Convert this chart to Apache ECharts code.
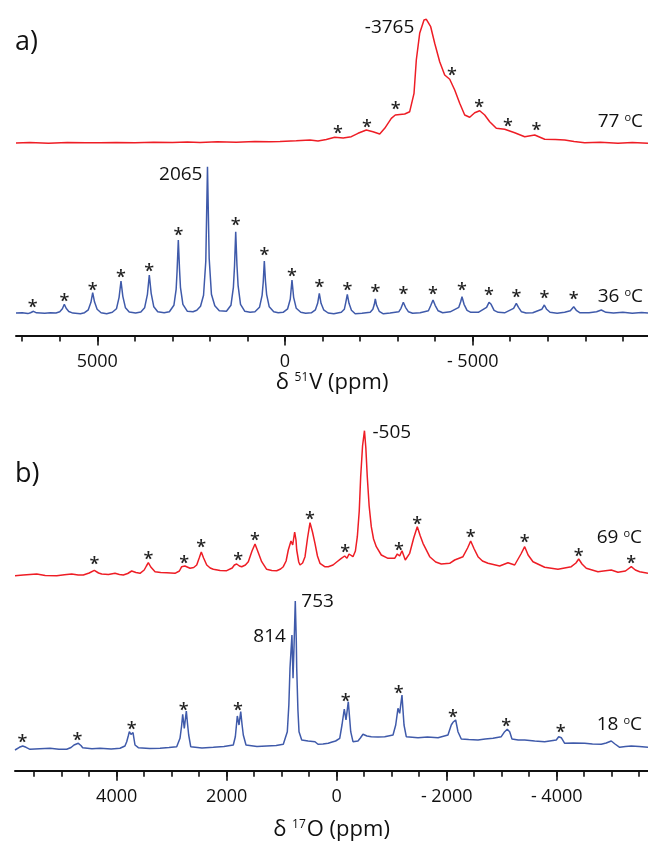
<!DOCTYPE html>
<html>
<head>
<meta charset="utf-8">
<script src="https://cdn.jsdelivr.net/npm/echarts@6/dist/echarts.min.js"></script>
<style>
  html, body { margin: 0; padding: 0; background: #ffffff; }
  #chart { width: 648px; height: 844px; }
</style>
</head>
<body>
<div id="chart"></div>
<script>
// ---------- Panel a: 51V MAS spectra, points are [shift (ppm), intensity (a.u.)] ----------
const v51At77C = [
  [7166,0],[6800,0.4],[6300,-0.2],[5800,0.5],[5300,0.2],[4928,0.3],[4500,0.6],[4000,0.2],
  [3500,0.8],[3000,0.4],[2600,0.9],[2264,0.5],[1800,1.2],[1300,0.8],[800,1.6],[400,1.2],
  [133,1.5],[-300,2.2],[-666,3],[-879,2],[-1100,3.5],[-1324,5.7],[-1550,5],[-1766,6.3],
  [-1945,9.7],[-2166,13],[-2344,11.3],[-2523,9],[-2656,14.7],[-2832,24.7],[-2938,28],
  [-3060,28.5],[-3189,29],[-3322,31.3],[-3437,49.7],[-3498,83],[-3588,109.7],[-3703,123],
  [-3765,123.7],[-3881,116.3],[-3988,99.7],[-4121,81.3],[-4254,68],[-4388,63.7],[-4521,53],
  [-4654,39.7],[-4787,28],[-4920,25.7],[-5054,30.3],[-5187,32.3],[-5320,28],[-5453,21.3],
  [-5629,14.7],[-5853,13.7],[-6119,10.3],[-6386,6.3],[-6652,8],[-6918,3.7],[-7200,3.5],
  [-7451,3],[-7700,1.5],[-7984,0.3],[-8400,0.8],[-8871,-0.3],[-9250,0.4],[-9670,-0.3]
];
const v51At36C = [
  [7166,0.3],[7000,0.5],[6850,-0.3],[6780,0.6],[6700,2],[6620,0.5],[6400,0],[6250,0.5],
  [6100,0.3],[6000,1.5],[5930,4.5],[5879,9],[5830,5],[5760,1.8],[5650,0.2],[5450,-0.5],
  [5340,0.6],[5240,3.5],[5170,11],[5123,20.6],[5075,11.5],[5005,4],[4900,0.6],[4750,-0.5],
  [4600,1],[4490,4.5],[4420,16],[4369,32.3],[4320,17],[4250,5.5],[4150,1.2],[3980,0.2],
  [3840,1.2],[3740,5.5],[3665,19],[3615,38.3],[3565,20],[3495,6.5],[3390,1.5],[3220,0.5],
  [3080,1.5],[2960,8],[2900,24],[2875,42],[2842,73.3],[2810,44],[2785,26],[2720,9],[2600,2],[2450,1.5],
  [2350,3],[2250,7],[2170,18],[2110,52],[2065,146.6],[2020,55],[1960,19],[1870,7.5],[1750,2.5],
  [1560,2],[1440,8],[1375,26],[1345,47],[1313,81.6],[1280,48],[1250,28],[1185,9],[1070,2],[930,1],
  [800,1.5],[680,6],[610,18],[580,31],[551,52.3],[520,32],[490,19],[420,6.5],[300,1.5],[180,0.5],
  [50,1],[-70,4.5],[-140,14],[-186,33.3],[-230,16],[-300,5],[-420,1],[-550,0],
  [-700,0.5],[-810,3.5],[-870,10],[-914,20],[-960,10],[-1030,3.5],[-1150,0.3],[-1300,-0.5],
  [-1500,1],[-1580,4],[-1620,11],[-1660,19],[-1705,10],[-1770,3],[-1870,-0.5],[-2050,0],
  [-2270,1],[-2340,4],[-2380,9],[-2406,14.3],[-2440,8],[-2510,2],[-2620,-0.5],[-2800,0.3],
  [-3030,1.5],[-3090,5],[-3152,11],[-3210,6],[-3290,1.5],[-3400,0],[-3600,0.5],
  [-3820,2.5],[-3880,7.5],[-3943,13.3],[-4000,8],[-4080,2.5],[-4200,0.5],[-4400,1.5],
  [-4630,6],[-4680,11.5],[-4715,16.6],[-4770,9],[-4850,3],[-4950,1],[-5150,1],
  [-5370,6],[-5435,11],[-5490,9],[-5570,3],[-5680,1],[-5850,0.5],
  [-6090,5],[-6162,10],[-6220,6],[-6300,1.5],[-6420,0.3],[-6600,0.5],
  [-6840,4],[-6908,8.3],[-6970,4],[-7060,1],[-7250,0],[-7450,1],
  [-7600,2.5],[-7691,6.6],[-7760,3],[-7860,0.5],[-8100,0.5],[-8300,1.5],
  [-8426,3.3],[-8550,1],[-8750,0.3],[-9000,1],[-9250,0],[-9500,0.8],[-9670,0.3]
];
// spinning sidebands flagged with an asterisk: [shift, height of the mark]
const v51Sidebands77 = [[-1412,13],[-2184,19],[-2949,37],[-4449,71.3],[-5176,39],[-5941,20.3],[-6695,16.3]];
const v51Sidebands36 = [
  [6720,9],[5879,15.6],[5123,26.6],[4369,39],[3615,45.3],[2842,81.3],[1313,91.6],[551,61.3],
  [-186,40],[-914,29],[-1660,26],[-2406,24],[-3152,22.6],[-3943,22],[-4715,26.6],[-5435,21],
  [-6162,19.3],[-6908,18],[-7691,17.3]
];
const v51Isotropic77 = [-3765];
const v51Isotropic36 = [2065];
const v51Range = [-9670, 7166];
const v51MajorTicks = [5000, 0, -5000];
const v51TickLabels = ['5000', '0', '- 5000'];
const v51MinorTicks = [7000,6000,5000,4000,3000,2000,1000,0,-1000,-2000,-3000,-4000,-5000,-6000,-7000,-8000,-9000];

// ---------- Panel b: 17O MAS spectra ----------
const o17At69C = [
  [5849,0.3],[5700,1],[5454,2],[5300,0.5],[5090,0.3],[4950,1.2],[4818,2],[4700,1],[4607,1],
  [4500,3],[4407,5.7],[4330,3],[4272,2],[4150,1.5],[4031,2.7],[3950,1.5],[3880,1],[3800,2.5],
  [3727,5],[3650,3.5],[3576,2.7],[3500,6],[3460,10],[3425,13.3],[3380,9],[3303,4.3],[3200,3.5],
  [3091,3.3],[2940,2.7],[2860,5],[2818,9.3],[2790,8],[2760,10],[2727,11],[2667,7.7],[2600,8.5],
  [2545,11],[2500,18],[2462,24],[2420,18],[2363,11],[2300,8],[2243,6.7],[2120,5.5],[2000,5.3],
  [1900,8],[1860,11],[1818,12],[1770,10],[1727,9.3],[1660,11],[1607,14.3],[1540,25],[1485,32],
  [1430,24],[1364,14.3],[1273,6.7],[1180,5.5],[1091,5.3],[1020,7],[971,9.3],[920,15],[880,26],
  [831,35],[800,31],[764,44],[740,36],[727,26],[690,14],[667,11],[620,13],[576,19.3],[530,38],
  [485,53.3],[440,44],[395,32.7],[350,20],[304,12.7],[218,9.3],[153,9.3],[67,11],[0,14],
  [-84,17.7],[-145,20],[-187,17.7],[-224,22],[-260,20],[-296,19.3],[-340,25],[-375,39.3],
  [-410,65],[-436,99.3],[-470,130],[-505,145.3],[-530,128],[-556,99.3],[-590,70],[-629,49.3],
  [-670,37],[-720,29.3],[-811,21],[-933,17.7],[-1054,17.7],[-1102,22],[-1145,20],[-1187,25.3],
  [-1247,16],[-1327,22.7],[-1400,38],[-1465,49.3],[-1520,40],[-1569,32.7],[-1691,19.3],
  [-1800,14],[-1902,12],[-2054,12.7],[-2145,16],[-2296,19.3],[-2380,28],[-2436,35],[-2500,27],
  [-2569,19.3],[-2650,15],[-2751,12.7],[-2963,10],[-3114,13.3],[-3236,11],[-3350,22],
  [-3418,29.3],[-3480,21],[-3569,14.3],[-3781,8.7],[-4023,6.7],[-4265,9.3],[-4350,13],
  [-4400,17],[-4460,12],[-4538,7.7],[-4750,4.3],[-4850,5],[-4992,6],[-5114,3.7],[-5250,5],
  [-5356,9.3],[-5430,6],[-5509,4.3],[-5660,2.7]
];
const o17At18C = [
  [5849,0],[5770,2.7],[5709,4],[5648,2.7],[5576,0.7],[5400,1.2],[5212,1.7],[5050,0.8],[4909,0.7],
  [4830,2.5],[4776,5],[4698,6.7],[4650,4.5],[4618,2.3],[4450,1.2],[4303,1.7],[4100,1],[3940,1.7],
  [3850,4],[3818,8.3],[3790,14],[3770,18.3],[3740,15.7],[3703,17.3],[3685,11],[3667,5],[3607,2.3],
  [3400,1.5],[3212,1.7],[3050,2.5],[2909,3.3],[2849,11.7],[2820,24],[2800,35.7],[2771,21.7],
  [2734,39],[2710,25],[2691,15],[2654,3.3],[2450,2],[2243,2.7],[2050,3.5],[1880,5],[1843,13.3],
  [1807,34],[1776,25],[1745,38.3],[1720,25],[1698,15],[1649,5],[1450,3.5],[1273,4],[1100,4.5],
  [971,5.7],[898,18.3],[870,45],[849,81.7],[814,115],[794,71.7],[775,105],[753,149],[735,110],
  [727,81.7],[705,40],[685,18.3],[636,10],[520,9],[395,8.3],[340,5.7],[250,6],[153,6.7],[98,7.7],
  [20,9],[-55,11.7],[-96,25],[-138,41],[-169,30],[-211,48.3],[-235,32],[-255,18.3],[-296,8.3],
  [-387,9],[-430,12],[-478,15.7],[-550,14],[-629,13.3],[-750,13],[-873,13.3],[-1024,15],
  [-1073,25],[-1114,41.7],[-1145,36.7],[-1187,55],[-1205,40],[-1224,25],[-1265,13.3],[-1478,12.3],
  [-1650,13],[-1842,12.3],[-2023,15],[-2083,25],[-2114,27.7],[-2138,25.7],[-2163,30],[-2205,18.3],
  [-2265,11],[-2400,10.5],[-2569,10],[-2700,11],[-2842,11.7],[-2992,13.3],[-3054,18.3],[-3101,20.7],
  [-3145,18.3],[-3187,11],[-3300,10],[-3418,10],[-3600,9],[-3781,8.3],[-3992,10],[-4036,13.3],
  [-4083,12.3],[-4145,6.7],[-4300,7],[-4509,6.7],[-4650,6],[-4810,5.7],[-4900,7],[-4992,9],
  [-5060,6],[-5145,2.7],[-5250,3.5],[-5356,4],[-5500,3.5],[-5660,2.7]
];
const o17Sidebands69 = [
  [4407,15.3],[3425,20.3],[2771,15.7],[2462,31.7],[1789,18.7],[1485,38.7],[485,60],[-156,26.7],
  [-1133,29.3],[-1465,55.3],[-2436,42],[-3418,36.7],[-4400,22.7],[-5356,16]
];
const o17Sidebands18 = [
  [5716,10.7],[4716,12.7],[3727,24.3],[2782,43.3],[1794,42.7],[-164,52.3],[-1127,60],
  [-2114,35.7],[-3083,26.7],[-4072,21]
];
const o17Isotropic69 = [-505];
const o17Isotropic18 = [814, 753];
const o17Range = [-5660, 5849];
const o17MajorTicks = [4000, 2000, 0, -2000, -4000];
const o17TickLabels = ['4000', '2000', '0', '- 2000', '- 4000'];
const o17MinorTicks = [5500,5000,4500,4000,3500,3000,2500,2000,1500,1000,500,0,-500,-1000,-1500,-2000,-2500,-3000,-3500,-4000,-4500,-5000,-5500];

const temperatures = ['77', '36', '69', '18'];

// ---------- styling ----------
const FONT = 'Open Sans';
const RED = '#ee1d25';
const BLUE = '#3f5aaa';
const INK = '#111111';

function heightAt(spectrum, shift) {
  const p = spectrum.find(d => d[0] === shift);
  return p ? p[1] : 0;
}

function spectrumSeries(data, color, xi, yi) {
  return {
    type: 'line', data: data, xAxisIndex: xi, yAxisIndex: yi,
    showSymbol: false, symbol: 'none', smooth: false, silent: true,
    lineStyle: { color: color, width: 1.5 }, animation: false
  };
}

function starSeries(data, xi, yi) {
  return {
    type: 'scatter', data: data, xAxisIndex: xi, yAxisIndex: yi,
    symbolSize: 0, silent: true, animation: false,
    itemStyle: { color: INK, opacity: 1 },
    label: {
      show: true, formatter: '*', position: 'inside', offset: [0, 4],
      fontFamily: FONT, fontSize: 18, fontWeight: 600, color: '#222222', opacity: 1
    }
  };
}

function shiftLabelSeries(spectrum, shifts, sides, xi, yi) {
  return {
    type: 'scatter', xAxisIndex: xi, yAxisIndex: yi,
    symbolSize: 0, silent: true, animation: false,
    itemStyle: { color: INK, opacity: 1 },
    data: shifts.map((s, i) => ({
      value: [s, heightAt(spectrum, s)],
      label: sides[i]
    })),
    label: {
      show: true, formatter: p => String(p.value[0]),
      fontFamily: FONT, fontSize: 19, color: INK, opacity: 1
    }
  };
}

function hiddenX(grid, range) {
  return { gridIndex: grid, type: 'value', min: range[0], max: range[1], inverse: true, show: false };
}

function majorX(grid, range, majors, labels, name, gap) {
  return {
    gridIndex: grid, type: 'value', min: range[0], max: range[1], inverse: true,
    position: 'bottom',
    axisLine: { show: true, onZero: false, lineStyle: { color: INK, width: 2 } },
    axisTick: { show: true, customValues: majors, length: 10, lineStyle: { color: INK, width: 1.6 } },
    axisLabel: {
      show: true, customValues: majors, margin: 17,
      formatter: v => labels[majors.indexOf(v)],
      fontFamily: FONT, fontSize: 18, color: INK
    },
    splitLine: { show: false },
    name: name, nameLocation: 'middle', nameGap: gap,
    nameTextStyle: {
      fontFamily: FONT, fontSize: 22, color: INK,
      rich: {
        m: { fontFamily: FONT, fontSize: 22, color: INK },
        s: { fontFamily: FONT, fontSize: 12, color: INK, verticalAlign: 'top', padding: [0, 1, 0, 0] }
      }
    }
  };
}

function minorX(grid, range, minors) {
  return {
    gridIndex: grid, type: 'value', min: range[0], max: range[1], inverse: true,
    position: 'bottom',
    axisLine: { show: false, onZero: false },
    axisTick: { show: true, customValues: minors, length: 6, lineStyle: { color: INK, width: 1.6 } },
    axisLabel: { show: false },
    splitLine: { show: false }
  };
}

function tempText(t, x, y) {
  return {
    type: 'text', x: x, y: y, silent: true,
    style: {
      text: '{n|' + t + ' }{s|o}{n|C}',
      align: 'right', verticalAlign: 'middle',
      rich: {
        n: { fontFamily: FONT, fontSize: 19, fill: INK },
        s: { fontFamily: FONT, fontSize: 11, fill: INK, verticalAlign: 'top' }
      }
    }
  };
}

const chart = echarts.init(document.getElementById('chart'), null, { renderer: 'canvas' });

chart.setOption({
  backgroundColor: '#ffffff',
  animation: false,
  grid: [
    { left: 16, right: 0, top: 13, height: 140 },
    { left: 16, right: 0, top: 163.3, height: 172.2 },
    { left: 15, right: 0, top: 426, height: 160 },
    { left: 15, right: 0, top: 595, height: 175.7 }
  ],
  xAxis: [
    hiddenX(0, v51Range),
    majorX(1, v51Range, v51MajorTicks, v51TickLabels, '{m|δ }{s|51}{m|V (ppm)}', 36),
    minorX(1, v51Range, v51MinorTicks),
    hiddenX(2, o17Range),
    majorX(3, o17Range, o17MajorTicks, o17TickLabels, '{m|δ }{s|17}{m|O (ppm)}', 48),
    minorX(3, o17Range, o17MinorTicks)
  ],
  yAxis: [
    { gridIndex: 0, type: 'value', min: -10, max: 130, show: false },
    { gridIndex: 1, type: 'value', min: -22.2, max: 150, show: false },
    { gridIndex: 2, type: 'value', min: -10, max: 150, show: false },
    { gridIndex: 3, type: 'value', min: -20.7, max: 155, show: false }
  ],
  series: [
    spectrumSeries(v51At77C, RED, 0, 0),
    spectrumSeries(v51At36C, BLUE, 1, 1),
    spectrumSeries(o17At69C, RED, 3, 2),
    spectrumSeries(o17At18C, BLUE, 4, 3),
    starSeries(v51Sidebands77, 0, 0),
    starSeries(v51Sidebands36, 1, 1),
    starSeries(o17Sidebands69, 3, 2),
    starSeries(o17Sidebands18, 4, 3),
    shiftLabelSeries(v51At77C, v51Isotropic77, [{ position: 'left', distance: 12, offset: [0, 8] }], 0, 0),
    shiftLabelSeries(v51At36C, v51Isotropic36, [{ position: 'left', distance: 5, offset: [0, 8] }], 1, 1),
    shiftLabelSeries(o17At69C, o17Isotropic69, [{ position: 'right', distance: 8, offset: [0, 2] }], 3, 2),
    shiftLabelSeries(o17At18C, o17Isotropic18, [
      { position: 'left', distance: 6, offset: [0, 2] },
      { position: 'right', distance: 6, offset: [0, 1] }
    ], 4, 3)
  ],
  graphic: [
    { type: 'text', x: 15, y: 42, silent: true,
      style: { text: 'a)', fontFamily: FONT, fontSize: 27, fill: INK, verticalAlign: 'middle' } },
    { type: 'text', x: 15, y: 474, silent: true,
      style: { text: 'b)', fontFamily: FONT, fontSize: 27, fill: INK, verticalAlign: 'middle' } },
    tempText(temperatures[0], 643, 122),
    tempText(temperatures[1], 643, 297),
    tempText(temperatures[2], 642, 538),
    tempText(temperatures[3], 642, 725)
  ]
});
</script>
</body>
</html>
